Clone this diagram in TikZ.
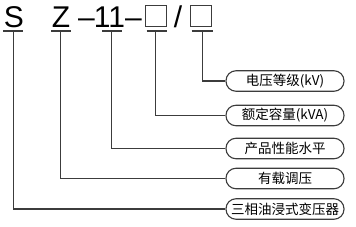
\documentclass[tikz,border=0pt]{standalone}
\usepackage{fontspec}
\setmainfont{Liberation Sans}
\newfontfamily\cjk{Noto Sans CJK SC}
\definecolor{ln}{HTML}{3C3C3C}
\begin{document}
\begin{tikzpicture}[x=1pt,y=-1pt,
  big/.style={inner sep=0pt,anchor=base,font=\fontsize{30}{30}\selectfont},
  sq/.style={draw=ln,line width=1.1pt,minimum width=21pt,minimum height=21pt,inner sep=0pt},
  bar/.style={draw=ln,line width=1.3pt},
  conn/.style={draw=ln,line width=1.2pt},
  tag/.style={draw=ln,line width=1.1pt,rounded corners=10pt,minimum width=118pt,minimum height=20.5pt,inner sep=0pt,font=\cjk\fontsize{13.5}{13.5}\selectfont}]
\useasboundingbox (0,0) rectangle (356,227);
% top code
\node[big] (s) at (14,27.5) {S};
\node[big] (z) at (61,27.5) {Z};
\node[big] (d1) at (86.5,27.5) {–};
\node[big] (n11) at (109.5,27.5) {11};
\node[big] (d2) at (133.5,27.5) {–};
\node[sq] (q1) at (156,16) {};
\node[big] (sl) at (178,27.5) {/};
\node[sq] (q2) at (201,16) {};
% bars
\draw[bar] (3,31) -- (23,31);
\draw[bar] (51,31) -- (70.5,31);
\draw[bar] (102,31) -- (122,31);
\draw[bar] (146.5,31) -- (167,31);
\draw[bar] (191.5,31) -- (212.5,31);
\coordinate (bs) at (13.5,31);
\coordinate (bz) at (60.7,31);
\coordinate (b11) at (111.7,31);
\coordinate (bq1) at (155.7,31);
\coordinate (bq2) at (202.3,31);
% tags
\node[tag] (t1) at (285,81) {电压等级(kV)};
\node[tag] (t2) at (285,115.5) {额定容量(kVA)};
\node[tag] (t3) at (285,148.5) {产品性能水平};
\node[tag] (t4) at (285,178.5) {有载调压};
\node[tag] (t5) at (285,209) {三相油浸式变压器};
% connectors
\draw[conn] (bq2) |- (t1.west);
\draw[conn] (bq1) |- (t2.west);
\draw[conn] (b11) |- (t3.west);
\draw[conn] (bz) |- (t4.west);
\draw[conn] (bs) |- (t5.west);
\end{tikzpicture}
\end{document}
